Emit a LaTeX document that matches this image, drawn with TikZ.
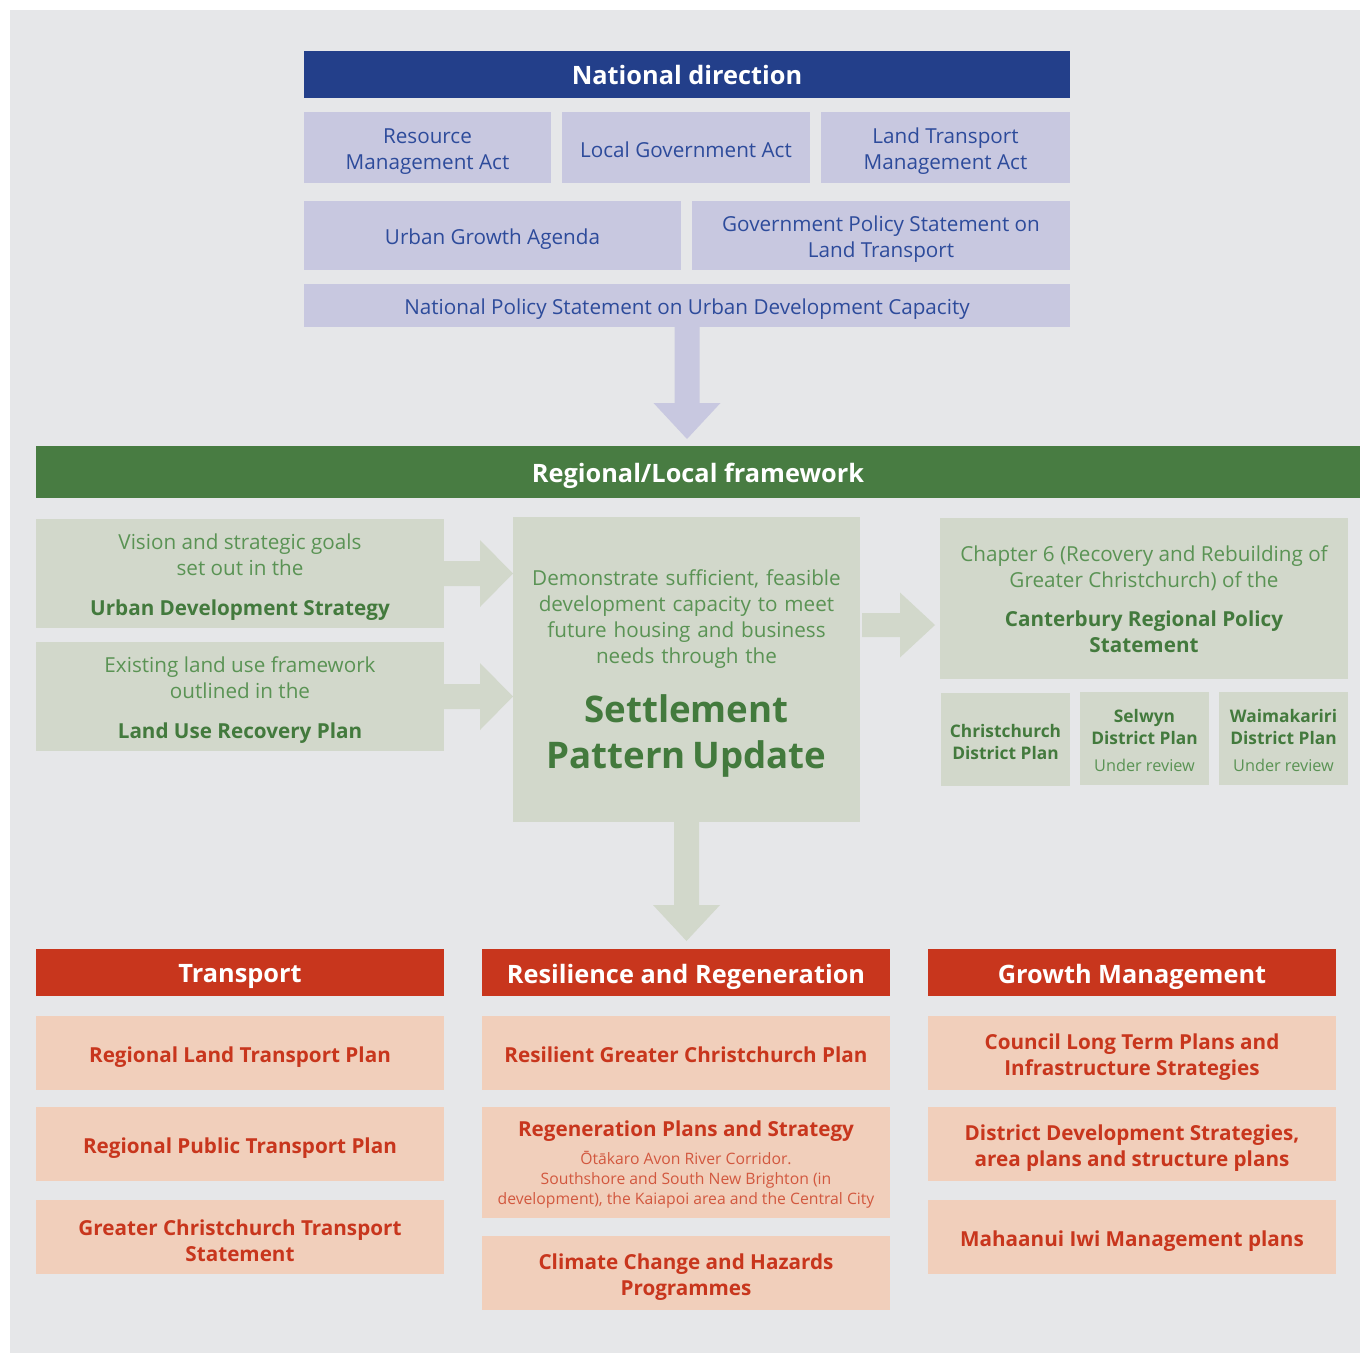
\documentclass[tikz,border=0pt]{standalone}
\usepackage{fontspec}
\setmainfont{Open Sans}
\usetikzlibrary{calc}
\definecolor{pagebg}{HTML}{E6E7E9}
\definecolor{navy}{HTML}{233F8A}
\definecolor{lav}{HTML}{C8C8E0}
\definecolor{lavtext}{HTML}{2D4B9B}
\definecolor{gbar}{HTML}{487C42}
\definecolor{sage}{HTML}{D2D8CB}
\definecolor{gtext}{HTML}{5A9354}
\definecolor{gbold}{HTML}{437A3D}
\definecolor{rbar}{HTML}{C8361D}
\definecolor{pink}{HTML}{F1CFBB}
\definecolor{rtext}{HTML}{C8361D}
\definecolor{rlight}{HTML}{D2583F}
\newcommand\fs[2]{\fontsize{#1}{#2}\selectfont}
\newcommand\subln[1]{{\mdseries\fs{11.8}{15}\color{rlight}#1}}
% box from pixel corners (x1,y1)-(x2,y2): a filled box node #3 and its text node #3t
\newcommand\bx[8][-3pt]{%
  \pgfmathsetmacro\bxw{(#6-#4)*0.75}%
  \pgfmathsetmacro\bxh{(#7-#5)*0.75}%
  \pgfmathsetmacro\bxcx{(#4+#6)/2}%
  \pgfmathsetmacro\bxcy{(#5+#7)/2}%
  \node[#2,minimum width=\bxw pt,minimum height=\bxh pt] (#3) at (\bxcx,\bxcy) {};
  \node[#2,fill=none,yshift=#1] (#3t) at (#3.center) {#8};}
\begin{document}
\begin{tikzpicture}[x=0.75pt,y=-0.75pt,
  box/.style={inner sep=0pt,outer sep=0pt,draw=none,align=center,anchor=center},
  hdr/.style={box,text=white,font=\fs{19}{22}\bfseries},
  navybar/.style={hdr,fill=navy},
  greenbar/.style={hdr,fill=gbar},
  redbar/.style={hdr,fill=rbar},
  lavbox/.style={box,fill=lav,text=lavtext,font=\fs{15.5}{19.5}},
  sagebox/.style={box,fill=sage,text=gtext,font=\fs{15.5}{19.5}},
  smallbox/.style={box,fill=sage,text=gbold,font=\fs{13}{16.5}\bfseries},
  pinkbox/.style={box,fill=pink,text=rtext,font=\fs{15.5}{19.5}\bfseries},
]
\useasboundingbox (0,0) rectangle (1360,1353);
\fill[pagebg] (10,10) rectangle (1360,1353);

% national direction
\bx[0pt]{navybar}{nd}{304}{51}{1070}{98}{National direction}
\bx{lavbox}{rma}{304}{112}{551}{183}{Resource\\Management Act}
\bx[-1.5pt]{lavbox}{lga}{562}{112}{810}{183}{Local Government Act}
\bx{lavbox}{ltma}{821}{112}{1070}{183}{Land Transport\\Management Act}
\bx{lavbox}{uga}{304}{201}{681}{270}{Urban Growth Agenda}
\bx{lavbox}{gps}{692}{201}{1070}{270}{Government Policy Statement on\\Land Transport}
\bx{lavbox}{nps}{304}{284}{1070}{327}{National Policy Statement on Urban Development Capacity}

% regional framework
\bx{greenbar}{rlf}{36}{446}{1360}{498}{Regional/Local framework}
\bx{sagebox}{uds}{36}{519}{444}{628}{Vision and strategic goals\\set out in the\\[10.5pt]{\bfseries\color{gbold}Urban Development Strategy}}
\bx{sagebox}{lurp}{36}{642}{444}{751}{Existing land use framework\\outlined in the\\[10.5pt]{\bfseries\color{gbold}Land Use Recovery Plan}}
\bx{sagebox,text width=258pt}{spu}{513}{517}{860}{822}{\centering Demonstrate sufficient, feasible\\development capacity to meet\\future housing and business\\needs through the\par\vspace{9.5pt}{\fs{27.5}{34.5}\bfseries\color{gbold}Settlement\\Pattern Update\par}}
\bx[-0.75pt]{sagebox}{crps}{940}{518}{1348}{679}{Chapter 6 (Recovery and Rebuilding of\\Greater Christchurch) of the\\[9.75pt]{\bfseries\color{gbold}Canterbury Regional Policy}\\{\bfseries\color{gbold}Statement}}
\bx[-1.5pt]{smallbox}{chdp}{941}{693}{1070}{786}{Christchurch\\District Plan}
\bx[-1.5pt]{smallbox}{sdp}{1080}{692}{1209}{785}{Selwyn\\District Plan\\[4pt]{\mdseries\color{gtext}\fs{12.2}{16.5}Under review}}
\bx[-1.5pt]{smallbox}{wdp}{1219}{692}{1348}{785}{Waimakariri\\District Plan\\[4pt]{\mdseries\color{gtext}\fs{12.2}{16.5}Under review}}

% bottom columns
\bx{redbar}{trh}{36}{949}{444}{996}{Transport}
\bx{redbar}{rrh}{482}{949}{890}{996}{Resilience and Regeneration}
\bx{redbar}{gmh}{928}{949}{1336}{996}{Growth Management}

\bx{pinkbox}{rltp}{36}{1016}{444}{1090}{Regional Land Transport Plan}
\bx{pinkbox}{rptp}{36}{1107}{444}{1181}{Regional Public Transport Plan}
\bx{pinkbox}{gcts}{36}{1200}{444}{1274}{Greater Christchurch Transport\\Statement}

\bx[-1.5pt]{pinkbox}{rgcp}{482}{1016}{890}{1090}{Resilient Greater Christchurch Plan}
\bx[-1.5pt]{pinkbox}{regen}{482}{1107}{890}{1218}{Regeneration Plans and Strategy\\[1.5pt]\subln{Ōtākaro Avon River Corridor.}\\[-4.5pt]\subln{Southshore and South New Brighton (in}\\[-4.5pt]\subln{development), the Kaiapoi area and the Central City}}
\bx{pinkbox}{ccp}{482}{1236}{890}{1310}{Climate Change and Hazards\\Programmes}

\bx{pinkbox}{cltp}{928}{1016}{1336}{1090}{Council Long Term Plans and\\Infrastructure Strategies}
\bx{pinkbox}{dds}{928}{1107}{1336}{1181}{District Development Strategies,\\area plans and structure plans}
\bx{pinkbox}{mimp}{928}{1200}{1336}{1274}{Mahaanui Iwi Management plans}

% block arrows
% national -> regional (down)
\coordinate (a1s) at (nps.south);
\coordinate (a1t) at ($(nps.south |- rlf.north)+(0,-7)$);
\fill[lav] ($(a1s)+(-12.5,0)$) -- ($(a1t)+(-12.5,-36)$) -- ($(a1t)+(-33.5,-36)$) -- (a1t)
  -- ($(a1t)+(33.5,-36)$) -- ($(a1t)+(12.5,-36)$) -- ($(a1s)+(12.5,0)$) -- cycle;
% uds -> spu
\coordinate (a2s) at (uds.east);
\coordinate (a2t) at (spu.west |- uds.east);
\fill[sage] ($(a2s)+(0,-12.5)$) -- ($(a2t)+(-33,-12.5)$) -- ($(a2t)+(-33,-33.5)$) -- (a2t)
  -- ($(a2t)+(-33,33.5)$) -- ($(a2t)+(-33,12.5)$) -- ($(a2s)+(0,12.5)$) -- cycle;
% lurp -> spu
\coordinate (a3s) at (lurp.east);
\coordinate (a3t) at (spu.west |- lurp.east);
\fill[sage] ($(a3s)+(0,-12.5)$) -- ($(a3t)+(-33,-12.5)$) -- ($(a3t)+(-33,-33.5)$) -- (a3t)
  -- ($(a3t)+(-33,33.5)$) -- ($(a3t)+(-33,12.5)$) -- ($(a3s)+(0,12.5)$) -- cycle;
% spu -> crps
\coordinate (ry) at (0,625);
\coordinate (a4s) at ($(spu.east |- ry)+(2,0)$);
\coordinate (a4t) at ($(crps.west |- ry)+(-5,0)$);
\fill[sage] ($(a4s)+(0,-12)$) -- ($(a4t)+(-35,-12)$) -- ($(a4t)+(-35,-32.5)$) -- (a4t)
  -- ($(a4t)+(-35,32.5)$) -- ($(a4t)+(-35,12)$) -- ($(a4s)+(0,12)$) -- cycle;
% spu -> bottom (down)
\coordinate (a5s) at (spu.south);
\coordinate (a5t) at ($(spu.south |- rrh.north)+(0,-8)$);
\fill[sage] ($(a5s)+(-12.5,0)$) -- ($(a5t)+(-12.5,-36)$) -- ($(a5t)+(-33.5,-36)$) -- (a5t)
  -- ($(a5t)+(33.5,-36)$) -- ($(a5t)+(12.5,-36)$) -- ($(a5s)+(12.5,0)$) -- cycle;
\end{tikzpicture}
\end{document}
